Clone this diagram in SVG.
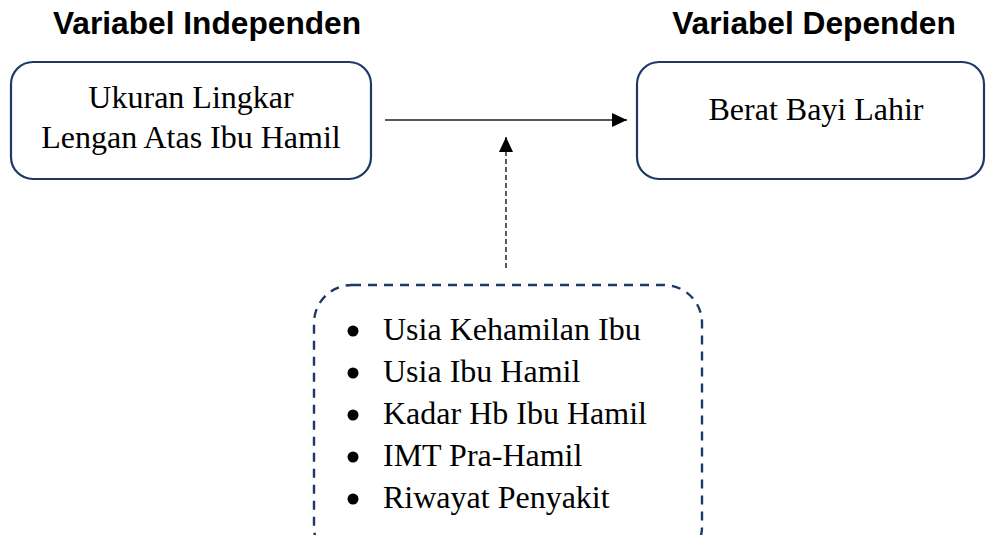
<svg xmlns="http://www.w3.org/2000/svg" width="987" height="535" viewBox="0 0 987 535">
<style>
.title{font-family:"Liberation Sans",Arial,sans-serif;font-weight:bold;font-size:31.7px;fill:#000}
.box{fill:#fff;stroke:#1f3864;stroke-width:2.2}
.lbl{font-family:"Liberation Serif","Times New Roman",serif;font-size:32px;fill:#000}
.conn{stroke:#222;stroke-width:1.5;fill:none}
.dot{fill:#000}
</style>
<defs>
<marker id="ah" markerWidth="15" markerHeight="14" refX="15" refY="7" orient="auto" markerUnits="userSpaceOnUse">
<path d="M0,0 L15,7 L0,14 Z" fill="#000"/>
</marker>
</defs>
<rect width="987" height="535" fill="#fff"/>
<text class="title" x="207" y="34" text-anchor="middle">Variabel Independen</text>
<text class="title" x="814" y="34" text-anchor="middle">Variabel Dependen</text>
<g id="node-independen">
<rect class="box" x="11" y="62" width="360" height="117" rx="22"/>
<text class="lbl" x="191" y="108" text-anchor="middle">Ukuran Lingkar</text>
<text class="lbl" x="191" y="148" text-anchor="middle">Lengan Atas Ibu Hamil</text>
</g>
<g id="node-dependen">
<rect class="box" x="637" y="62" width="347" height="117" rx="22"/>
<text class="lbl" x="816" y="120" text-anchor="middle">Berat Bayi Lahir</text>
</g>
<g id="node-confounding">
<rect x="314" y="285" width="388" height="280" rx="38" fill="none" stroke="#1f3864" stroke-width="2.4" stroke-dasharray="9,7"/>
<circle class="dot" cx="353" cy="331" r="5.5"/>
<text class="lbl" x="383" y="340">Usia Kehamilan Ibu</text>
<circle class="dot" cx="353" cy="373" r="5.5"/>
<text class="lbl" x="383" y="382">Usia Ibu Hamil</text>
<circle class="dot" cx="353" cy="415" r="5.5"/>
<text class="lbl" x="383" y="424">Kadar Hb Ibu Hamil</text>
<circle class="dot" cx="353" cy="457" r="5.5"/>
<text class="lbl" x="383" y="466">IMT Pra-Hamil</text>
<circle class="dot" cx="353" cy="499" r="5.5"/>
<text class="lbl" x="383" y="508">Riwayat Penyakit</text>
</g>
<g id="connectors">
<line class="conn" x1="385" y1="120" x2="627" y2="120" marker-end="url(#ah)"/>
<line class="conn" x1="506" y1="268" x2="506" y2="137" stroke-dasharray="5,3" marker-end="url(#ah)"/>
</g>
</svg>
